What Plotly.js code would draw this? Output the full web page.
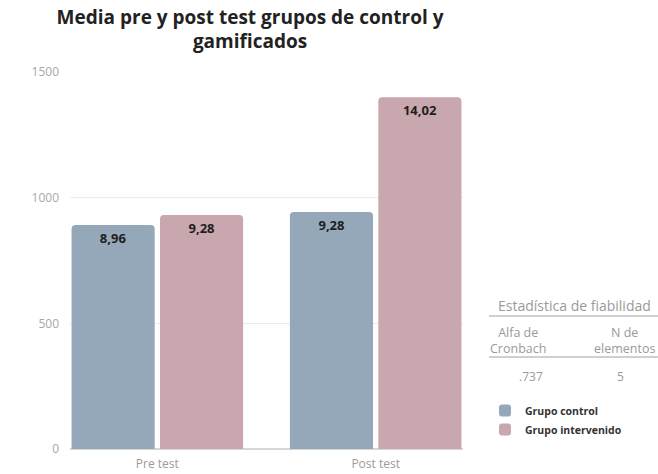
<!DOCTYPE html>
<html>
<head>
<meta charset="utf-8">
<script src="https://cdn.plot.ly/plotly-3.0.1.min.js"></script>
<style>html,body{margin:0;padding:0;background:#fff;}#chart{width:658px;height:474px;}</style>
</head>
<body>
<div id="chart"></div>
<script>
var categories = ["Pre test", "Post test"];
var controlValues = [891, 943];
var intervenidoValues = [931, 1400];
var controlLabels = ["8,96", "9,28"];
var intervenidoLabels = ["9,28", "14,02"];
var seriesNames = ["Grupo control", "Grupo intervenido"];
var yTicks = [0, 500, 1000, 1500];
var tableHeader = "Estadística de fiabilidad";
var tableCols = ["Alfa de<br>Cronbach", "N de<br>elementos"];
var tableValues = [".737", "5"];

var L = 70, R = 463, T = 72, B = 449;
function px(x){ return (x - L) / (R - L); }
function py(y){ return (B - y) / (B - T); }

var font = "Open Sans, Lato, sans-serif";
var labelFont = {family: font, size: 13, color: "#1e1e1e", weight: 700};
var traces = [
  {type: "bar", name: seriesNames[0], x: categories, y: controlValues, text: controlLabels,
   marker: {color: "#94a8b9"}, textposition: "inside", insidetextanchor: "end",
   textfont: labelFont, hoverinfo: "none"},
  {type: "bar", name: seriesNames[1], x: categories, y: intervenidoValues, text: intervenidoLabels,
   marker: {color: "#c9a7ae"}, textposition: "inside", insidetextanchor: "end",
   textfont: labelFont, hoverinfo: "none"}
];

var gray = "#9a9a9a";
function ann(x, y, text, size){
  return {xref: "paper", yref: "paper", x: px(x), y: py(y), xanchor: "center", yanchor: "middle",
          text: text, showarrow: false, font: {family: font, size: size, color: gray}};
}
var annotations = [
  ann(574, 305, tableHeader, 14),
  ann(518, 340, tableCols[0], 12.5),
  ann(624, 340, tableCols[1], 12.5),
  ann(531, 376, tableValues[0], 12),
  ann(620, 376, tableValues[1], 12)
];
var shapes = [
  {type: "line", xref: "paper", yref: "paper", x0: px(489), x1: px(658), y0: py(316), y1: py(316),
   line: {color: "#a0a0a0", width: 1}},
  {type: "line", xref: "paper", yref: "paper", x0: px(489), x1: px(658), y0: py(357), y1: py(357),
   line: {color: "#a0a0a0", width: 1}}
];

var layout = {
  width: 658, height: 474,
  margin: {l: L, r: 658 - R, t: T, b: 474 - B, pad: 0},
  paper_bgcolor: "#ffffff", plot_bgcolor: "rgba(0,0,0,0)",
  title: {text: "<b>Media pre y post test grupos de control y<br>gamificados</b>",
          x: 0.38, xanchor: "center", y: 0.95, yanchor: "top",
          font: {family: font, size: 19, color: "#222"}},
  barmode: "group", bargap: 0.19, bargroupgap: 0.06, barcornerradius: 4,
  xaxis: {range: [-0.4, 1.4], showgrid: false, zeroline: false, showline: false, ticks: "",
          ticklabelstandoff: 6,
          tickfont: {family: font, size: 12, color: gray}, fixedrange: true},
  yaxis: {range: [0, 1500], tickvals: yTicks, ticktext: yTicks.map(String),
          showgrid: true, gridcolor: "#e9ecea", gridwidth: 1.5, zeroline: true, zerolinecolor: "#d6d6d6",
          zerolinewidth: 1.5, ticklabelstandoff: 10,
          tickfont: {family: font, size: 12, color: "#a8a8a8"}, fixedrange: true},
  showlegend: true,
  legend: {x: px(485), y: py(396), xanchor: "left", yanchor: "top", bgcolor: "rgba(0,0,0,0)",
           font: {family: font, size: 10.5, color: "#333", weight: 700}, tracegroupgap: 0,
           itemwidth: 30},
  annotations: annotations,
  shapes: shapes
};
Plotly.newPlot("chart", traces, layout, {displayModeBar: false, staticPlot: true});
</script>
</body>
</html>
